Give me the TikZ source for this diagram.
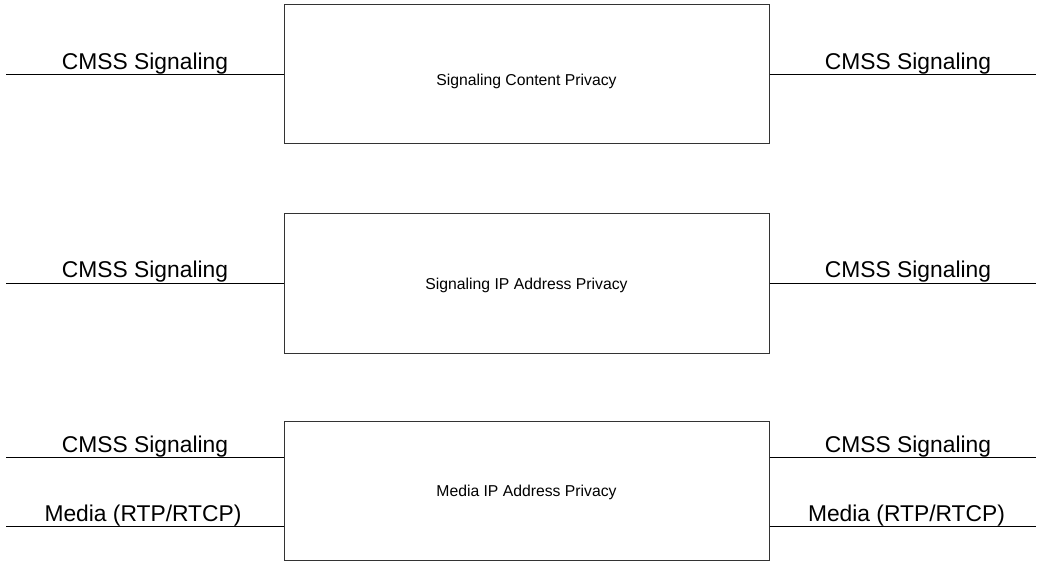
\documentclass[tikz,border=0pt]{standalone}
\usepackage{fontspec}
\setmainfont{Liberation Sans}
\begin{document}
\begin{tikzpicture}[x=1bp,y=-1bp,
  privbox/.style={draw=black!80,line width=1bp,inner sep=0pt,minimum width=485bp},
  boxtext/.style={font=\fontsize{15.8}{18}\selectfont,inner sep=0pt},
  flow/.style={draw=black,line width=1bp},
  flowlabel/.style={font=\fontsize{22.9}{26}\selectfont,anchor=base,inner sep=0pt}]
\useasboundingbox (0,0) rectangle (1037,561);
% boxes
\node[privbox,minimum height=139bp] (b1) at (526.5,74.5) {};
\node[boxtext] (t1) at (526.5,81) {Signaling Content Privacy};
\node[privbox,minimum height=139bp] (b2) at (526.5,283.5) {};
\node[boxtext] (t2) at (526.5,285) {Signaling IP Address Privacy};
\node[privbox,minimum height=138bp] (b3) at (526.5,491) {};
\node[boxtext] (t3) at (526.5,492.5) {Media IP Address Privacy};
% free ends
\coordinate (l1) at (6,75);
\coordinate (r1) at (1036,75);
\coordinate (l2) at (6,283.5);
\coordinate (r2) at (1036,283.5);
\coordinate (l3a) at (6,457);
\coordinate (r3a) at (1036,457);
\coordinate (l3b) at (6,526);
\coordinate (r3b) at (1036,526);
% connectors
\draw[flow] (l1) -- (l1 -| b1.west);
\draw[flow] (b1.east |- r1) -- (r1);
\draw[flow] (l2) -- (l2 -| b2.west);
\draw[flow] (b2.east |- r2) -- (r2);
\draw[flow] (l3a) -- (l3a -| b3.west);
\draw[flow] (b3.east |- r3a) -- (r3a);
\draw[flow] (l3b) -- (l3b -| b3.west);
\draw[flow] (b3.east |- r3b) -- (r3b);
% labels
\node[flowlabel] (s1l) at (145,70) {CMSS Signaling};
\node[flowlabel] (s1r) at (908,70) {CMSS Signaling};
\node[flowlabel] (s2l) at (145,278) {CMSS Signaling};
\node[flowlabel] (s2r) at (908,278) {CMSS Signaling};
\node[flowlabel] (s3l) at (145,452.5) {CMSS Signaling};
\node[flowlabel] (s3r) at (908,452.5) {CMSS Signaling};
\node[flowlabel] (m3l) at (143,521.5) {Media (RTP/RTCP)};
\node[flowlabel] (m3r) at (906.5,521.5) {Media (RTP/RTCP)};
\end{tikzpicture}
\end{document}
